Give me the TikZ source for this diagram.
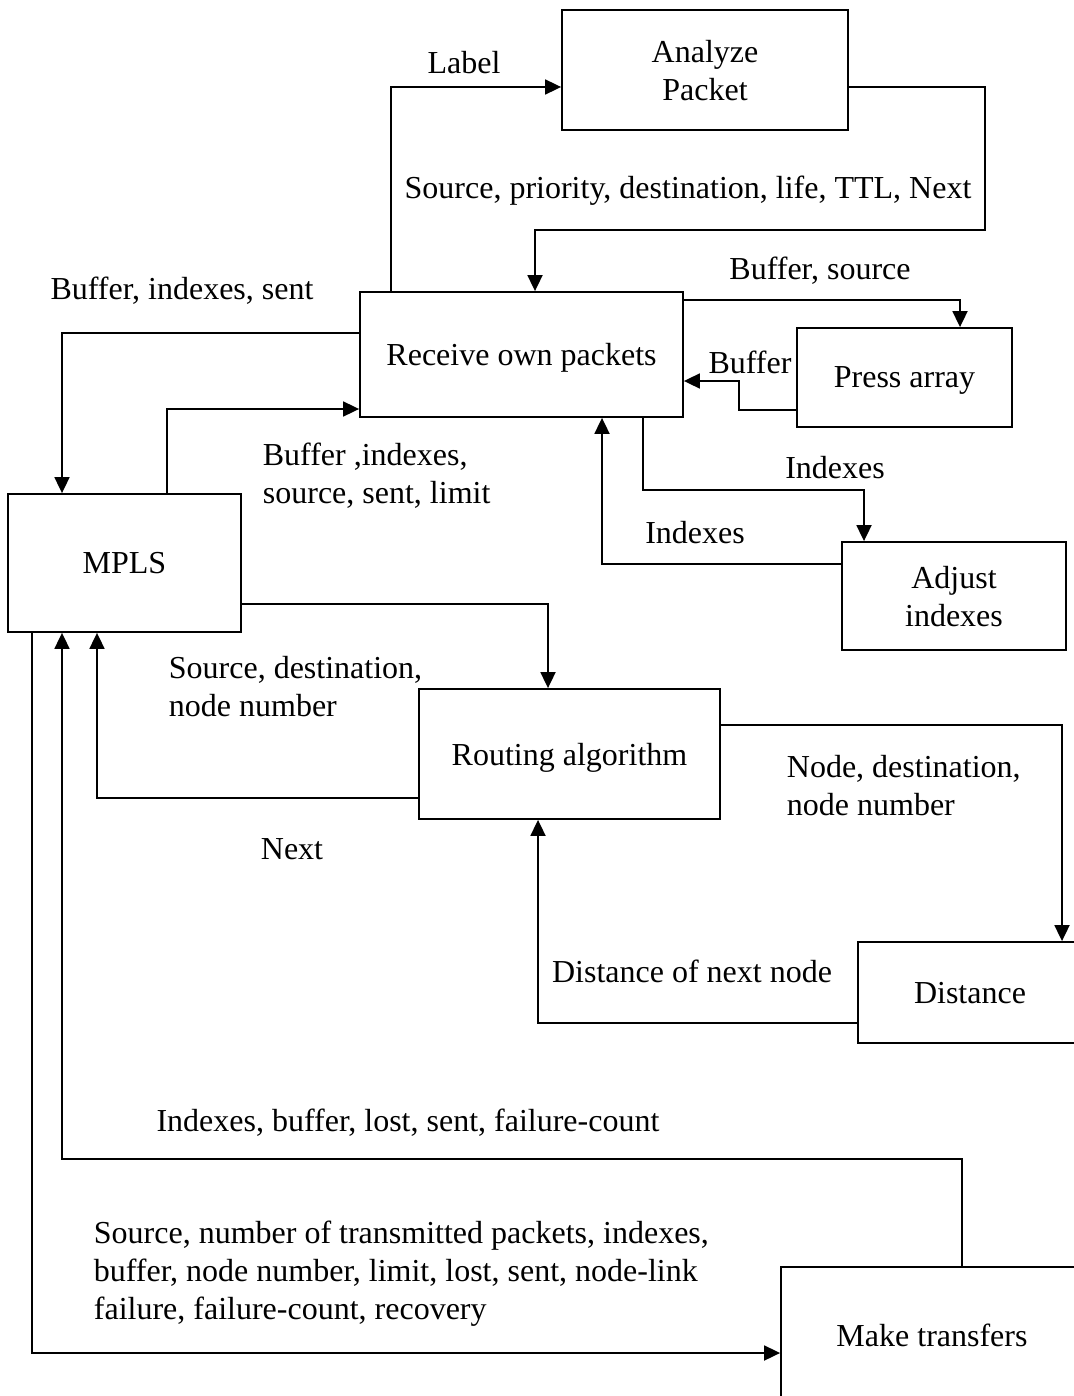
\documentclass[tikz,border=0pt]{standalone}
\usepackage{fontspec}
\setmainfont{Liberation Serif}
\usetikzlibrary{arrows.meta}

\begin{document}
\begin{tikzpicture}[x=1pt,y=-1pt,line width=1.8pt,font=\fontsize{32}{38}\selectfont]
        \tikzstyle{every node}+=[inner sep=0pt,text depth=0pt]
        \tikzstyle{box}=[draw,black,align=center]
        \tikzstyle{flow}=[-{Triangle[length=16pt,width=15pt]}]
        \useasboundingbox (0,0) rectangle (1073,1396);
        \node [box,minimum width=286pt,minimum height=120pt] (ap) at (705,70) {Analyze\\Packet};
        \node [box,minimum width=323pt,minimum height=125pt] (rop) at (521.5,354.5) {Receive own packets};
        \node [box,minimum width=215pt,minimum height=99pt] (pa) at (904.5,377.5) {Press array};
        \node [box,minimum width=224pt,minimum height=108pt] (ai) at (954,596) {Adjust\\indexes};
        \node [box,minimum width=233pt,minimum height=138pt] (mpls) at (124.5,563) {MPLS};
        \node [box,minimum width=301pt,minimum height=130pt] (ra) at (569.5,754) {Routing algorithm};
        \node [box,minimum width=224pt,minimum height=101pt] (dist) at (970,992.5) {Distance};
        \node [box,minimum width=302pt,minimum height=136pt] (mt) at (932,1335) {Make transfers};
        \coordinate (apbend) at (985,230);
        \draw [flow] ([xshift=32pt]rop.north west) |- ([yshift=-17pt]ap.west);
        \draw [flow] ([yshift=-17pt]ap.east) -| (apbend) -| ([xshift=13.5pt]rop.north);
        \draw [flow] ([yshift=-9pt]rop.north east) -| ([xshift=55.5pt]pa.north);
        \draw [flow] ([yshift=-32.5pt]pa.west) -- ++(-57,0) |- ([yshift=-26.5pt]rop.east);
        \draw [flow] ([xshift=121.5pt]rop.south) -- ++(0,72) -| ([xshift=-90pt]ai.north);
        \draw [flow] ([yshift=32pt]ai.west) -| ([xshift=80.5pt]rop.south);
        \draw [flow] ([yshift=21.5pt]rop.west) -| ([xshift=-62.5pt]mpls.north);
        \draw [flow] ([xshift=42.5pt]mpls.north) |- ([yshift=-54.5pt]rop.west);
        \draw [flow] ([yshift=-41pt]mpls.east) -| ([xshift=-21.5pt]ra.north);
        \draw [flow] ([yshift=-44pt]ra.west) -| ([xshift=-27.5pt]mpls.south);
        \draw [flow] ([yshift=29pt]ra.east) -| ([xshift=92pt]dist.north);
        \draw [flow] ([yshift=-30.5pt]dist.west) -| ([xshift=-31.5pt]ra.south);
        \draw [flow] ([xshift=30pt]mt.north) -- ++(0,-107) -| ([xshift=-62.5pt]mpls.south);
        \draw [flow] ([xshift=-92.5pt]mpls.south) |- ([yshift=-18pt]mt.west);
        \node (lbl) at (464,62) {Label};
        \node (srcprio) at (688,187) {Source, priority, destination, life, TTL, Next};
        \node (bufsrc) at (820,268) {Buffer, source};
        \node (buf) at (750,362) {Buffer};
        \node (idxdown) at (835,467) {Indexes};
        \node (idxup) at (695,532) {Indexes};
        \node (bufidxsent) at (182,288) {Buffer, indexes, sent};
        \node [anchor=west,align=left] (bufidxlim) at (262,473.5) {Buffer ,indexes,\\source, sent, limit};
        \node [anchor=west,align=left] (srcdest) at (168,686) {Source, destination,\\node number};
        \node (nxt) at (292,849) {Next};
        \node [anchor=west,align=left] (nodedest) at (786,785) {Node, destination,\\node number};
        \node (distnext) at (692,971) {Distance of next node};
        \node (idxfail) at (408,1120) {Indexes, buffer, lost, sent, failure-count};
        \node [anchor=west,align=left] (srcnum) at (93,1270) {Source, number of transmitted packets, indexes,\\buffer, node number, limit, lost, sent, node-link\\failure, failure-count, recovery};
    \end{tikzpicture}
\end{document}
